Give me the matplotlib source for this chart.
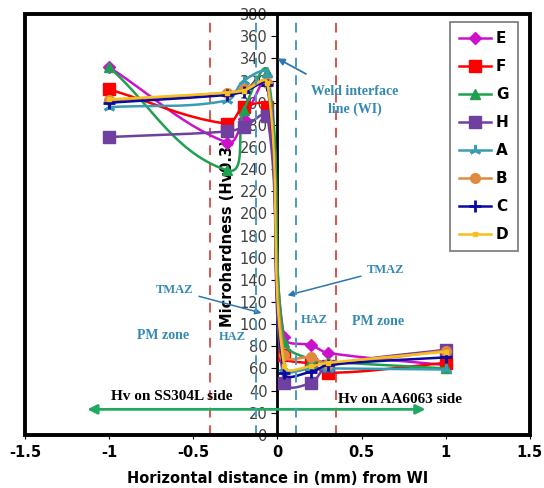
import numpy as np
import matplotlib.pyplot as plt
from matplotlib.lines import Line2D
from matplotlib.patches import Rectangle

# distances from weld interface (mm)
dist = [-1.0, -0.3, -0.2, -0.06, 0.04, 0.2, 0.3, 1.0]

# microhardness values per sample
hv_E = [332, 264, 285, 318, 88, 81, 74, 63]
hv_F = [312, 281, 296, 296, 72, 64, 56, 65]
hv_G = [332, 239, 293, 328, 84, 68, 66, 60]
hv_H = [269, 274, 278, 288, 47, 47, 62, 77]
hv_A = [296, 302, 320, 326, 60, 60, 60, 59]
hv_B = [302, 309, 312, 318, 72, 70, 64, 76]
hv_C = [300, 307, 310, 316, 56, 57, 63, 70]
hv_D = [303, 309, 311, 318, 62, 62, 65, 75]

names = ['E', 'F', 'G', 'H', 'A', 'B', 'C', 'D']
series = [hv_E, hv_F, hv_G, hv_H, hv_A, hv_B, hv_C, hv_D]
colors = ['#CC11CC', '#FF0000', '#1FA050', '#7040A0', '#3A9CB0', '#E08A40', '#0A0AA0', '#F5C020']
markers = ['D', 's', '^', 's', (3, 2, 0), 'o', '+', 's']
msizes = [6, 8, 7, 9, 8, 7, 8, 3]


# smoothed line like the spreadsheet one (bezier, handles scaled by chord)
def smooth(x, y, n=30, k=0.35):
    # work in roughly screen-like units
    P = np.column_stack([np.asarray(x) / 3.0 * 505, np.asarray(y) / 380.0 * 421]).astype(float)
    m = len(P)
    tang = []
    for i in range(m):
        d = P[min(i + 1, m - 1)] - P[max(i - 1, 0)]
        tang.append(d / np.linalg.norm(d))
    out = []
    for i in range(m - 1):
        p1, p2 = P[i], P[i + 1]
        L = np.linalg.norm(p2 - p1)
        c1 = p1 + tang[i] * L * k
        c2 = p2 - tang[i + 1] * L * k
        t = np.linspace(0, 1, n)[:, None]
        seg = (1 - t)**3 * p1 + 3 * (1 - t)**2 * t * c1 + 3 * (1 - t) * t**2 * c2 + t**3 * p2
        out.append(seg)
    out = np.vstack(out)
    return out[:, 0] * 3.0 / 505, out[:, 1] * 380.0 / 421


fig = plt.figure(figsize=(5.44, 4.88), dpi=100)
ax = fig.add_axes([0.046, 0.109, 0.928, 0.862])

ann_color = '#3388B5'
serif = 'Liberation Serif'

# zone boundaries
for xv in [-0.4, 0.35]:
    ax.axvline(xv, color='#D9534F', ls=(0, (5, 4)), lw=1.4, zorder=1)
for xv in [-0.13, 0.11]:
    ax.axvline(xv, color='#4A9AC4', ls=(0, (5, 4)), lw=1.4, zorder=4)

# series
handles = []
for name, hv, c, m, ms in zip(names, series, colors, markers, msizes):
    sx, sy = smooth(dist, hv)
    ax.plot(sx, sy, color=c, lw=1.8, zorder=3)
    mew = 2 if m in ['+', (3, 2, 0)] else 1
    ax.plot(dist, hv, ls='', marker=m, ms=ms, color=c, mec=c, mew=mew, zorder=3)
    handles.append(Line2D([0], [0], color=c, lw=1.8, marker=m, ms=ms, mec=c, mew=mew))

ax.set_xlim(-1.5, 1.5)
ax.set_ylim(0, 380)
ax.set_xticks(np.arange(-1.5, 1.51, 0.5))
ax.set_xticklabels(['-1.5', '-1', '-0.5', '0', '0.5', '1', '1.5'])
ax.set_yticks(np.arange(0, 381, 20))

# y axis sits at the weld interface
ax.spines['left'].set_position(('data', 0))
ax.spines['left'].set_linewidth(2)
for s in ['top', 'right', 'bottom']:
    ax.spines[s].set_visible(False)
ax.add_patch(Rectangle((0, 0), 1, 1, transform=ax.transAxes, fill=False,
                       lw=2.8, ec='black', clip_on=False, zorder=10))

ax.tick_params(axis='y', direction='out', length=4, labelsize=10.5,
               labelcolor='#404040', pad=3)
ax.tick_params(axis='x', direction='out', length=3, labelsize=10.5, pad=4)
for lb in ax.get_xticklabels():
    lb.set_fontweight('bold')

ax.set_xlabel('Horizontal distance in (mm) from WI', fontsize=10.5, fontweight='bold')
ax.set_ylabel('Microhardness (Hv0.3)', fontsize=10.5, fontweight='bold')
ax.yaxis.set_label_coords(0.415, 0.48)
ax.xaxis.set_label_coords(0.5, -0.085)

# annotations
ax.annotate('Weld interface\nline (WI)', xy=(0.0, 340), xytext=(0.46, 302),
            ha='center', va='center', fontsize=10, fontweight='bold',
            family=serif, color=ann_color, linespacing=1.5,
            arrowprops=dict(arrowstyle='-|>', color='#2A78B0', lw=1.3,
                            shrinkA=12, shrinkB=0))
ax.annotate('TMAZ', xy=(-0.095, 110), xytext=(-0.61, 131),
            ha='center', va='center', fontsize=9, fontweight='bold',
            family=serif, color=ann_color,
            arrowprops=dict(arrowstyle='-|>', color='#2A78B0', lw=1.1,
                            shrinkA=2, shrinkB=0))
ax.annotate('TMAZ', xy=(0.06, 126), xytext=(0.64, 149),
            ha='center', va='center', fontsize=9, fontweight='bold',
            family=serif, color=ann_color,
            arrowprops=dict(arrowstyle='-|>', color='#2A78B0', lw=1.1,
                            shrinkA=2, shrinkB=0))
ax.text(-0.68, 90, 'PM zone', ha='center', va='center', fontsize=10,
        fontweight='bold', family=serif, color=ann_color)
ax.text(-0.27, 88, 'HAZ', ha='center', va='center', fontsize=9,
        fontweight='bold', family=serif, color=ann_color)
ax.text(0.22, 104, 'HAZ', ha='center', va='center', fontsize=9,
        fontweight='bold', family=serif, color=ann_color)
ax.text(0.6, 102, 'PM zone', ha='center', va='center', fontsize=10,
        fontweight='bold', family=serif, color=ann_color)

ax.annotate('', xy=(-1.13, 23), xytext=(0.88, 23),
            arrowprops=dict(arrowstyle='<|-|>', color='#22A860', lw=2,
                            shrinkA=0, shrinkB=0, mutation_scale=14))
ax.text(-0.63, 35, 'Hv on SS304L side', ha='center', va='center',
        fontsize=11, fontweight='bold', family=serif, color='black')
ax.text(0.73, 32, 'Hv on AA6063 side', ha='center', va='center',
        fontsize=11, fontweight='bold', family=serif, color='black')

leg = ax.legend(handles, names, loc='upper right', bbox_to_anchor=(0.976, 0.981),
                borderaxespad=0, frameon=True, fancybox=False, edgecolor='#555555',
                prop={'weight': 'bold', 'size': 11}, handlelength=2.1,
                labelspacing=0.85, borderpad=0.6, handletextpad=0.3)
leg.get_frame().set_linewidth(1.2)
leg.set_zorder(11)

plt.savefig('out.png', dpi=100)
